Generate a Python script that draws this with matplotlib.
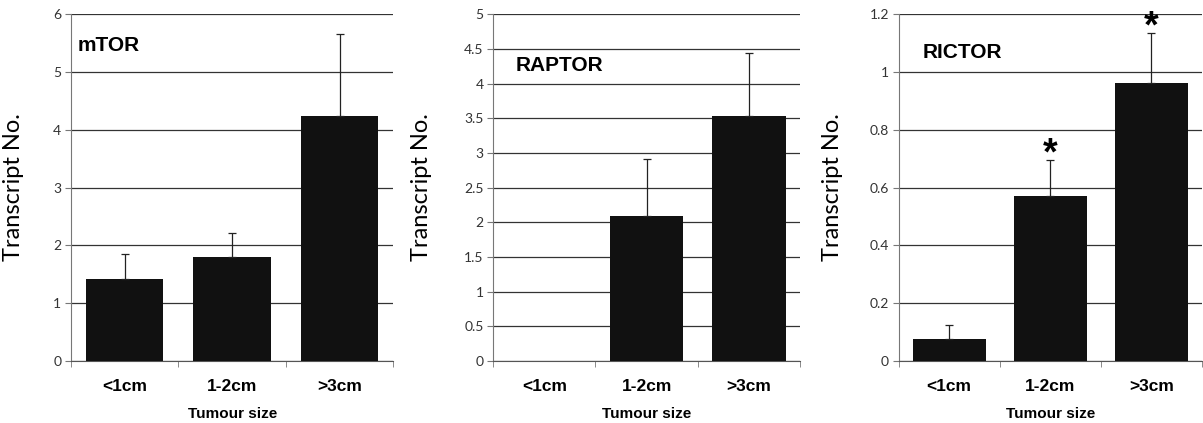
import matplotlib.pyplot as plt
import numpy as np

# data
categories = ["<1cm", "1-2cm", ">3cm"]
genes = ["mTOR", "RAPTOR", "RICTOR"]
mtor_vals = [1.42, 1.80, 4.23]
mtor_err = [0.43, 0.41, 1.43]
raptor_vals = [0.0, 2.09, 3.53]
raptor_err = [0.0, 0.82, 0.91]
rictor_vals = [0.076, 0.571, 0.962]
rictor_err = [0.049, 0.124, 0.173]
rictor_sig = [False, True, True]

values = [mtor_vals, raptor_vals, rictor_vals]
errors = [mtor_err, raptor_err, rictor_err]
ymax = [6, 5, 1.2]
ystep = [1, 0.5, 0.2]
sig = [None, None, rictor_sig]

# layout (figure fractions)
lefts = [0.059, 0.410, 0.747]
widths = [0.268, 0.255, 0.252]
label_x = [-0.146, -0.199, -0.184]
name_pos = [(0.02, 0.91), (0.072, 0.853), (0.079, 0.888)]

fig = plt.figure(figsize=(12.03, 4.23), dpi=100)
x = np.arange(len(categories))

for i in range(3):
    ax = fig.add_axes([lefts[i], 0.1466, widths[i], 0.820])
    vals = np.array(values[i])
    err = np.array(errors[i])
    ax.bar(x, vals, width=0.72, color="#111111", linewidth=0, zorder=3)
    # only bars that actually have an error bar
    m = err > 0
    ax.errorbar(x[m], vals[m], yerr=[np.zeros(m.sum()), err[m]], fmt="none", ecolor="#222222",
                elinewidth=0.9, capsize=3, capthick=0.9, zorder=4)
    ax.set_xlim(-0.5, 2.5)
    ax.set_ylim(0, ymax[i])
    ticks = np.arange(0, ymax[i] + ystep[i] / 2, ystep[i])
    ax.set_yticks(ticks)
    ax.set_yticklabels([("%g" % t) for t in ticks], fontsize=10, color="#333333", family="Lato")
    ax.yaxis.grid(True, color="#333333", linewidth=0.9, zorder=0)
    ax.set_axisbelow(True)
    for s in ["top", "right"]:
        ax.spines[s].set_visible(False)
    ax.spines["left"].set_color("#777777")
    ax.spines["bottom"].set_color("#555555")
    ax.tick_params(axis="y", length=4, color="#777777", pad=3)

    ax.set_xticks(x)
    ax.set_xticklabels(categories, fontsize=12.5, fontweight="bold", family="Liberation Sans")
    ax.set_xticks([-0.5, 0.5, 1.5, 2.5], minor=True)
    ax.tick_params(axis="x", which="major", length=0, pad=13)
    ax.tick_params(axis="x", which="minor", length=4, color="#777777")

    ax.set_xlabel("Tumour size", fontsize=11, fontweight="bold", family="Liberation Sans", labelpad=9)
    ax.set_ylabel("Transcript No.", fontsize=17, family="Lato")
    ax.yaxis.set_label_coords(label_x[i], 0.5)

    ax.text(name_pos[i][0], name_pos[i][1], genes[i], transform=ax.transAxes,
            fontsize=15, fontweight="bold", family="Liberation Sans", va="center")

    if sig[i] is not None:
        for j, s in enumerate(sig[i]):
            if s:
                ax.annotate("*", (x[j], vals[j] + err[j]), xytext=(0, -3.5), textcoords="offset points",
                            ha="center", va="baseline", fontsize=27, fontweight="bold",
                            family="Liberation Sans", annotation_clip=False)

fig.savefig("out.png", dpi=100)
